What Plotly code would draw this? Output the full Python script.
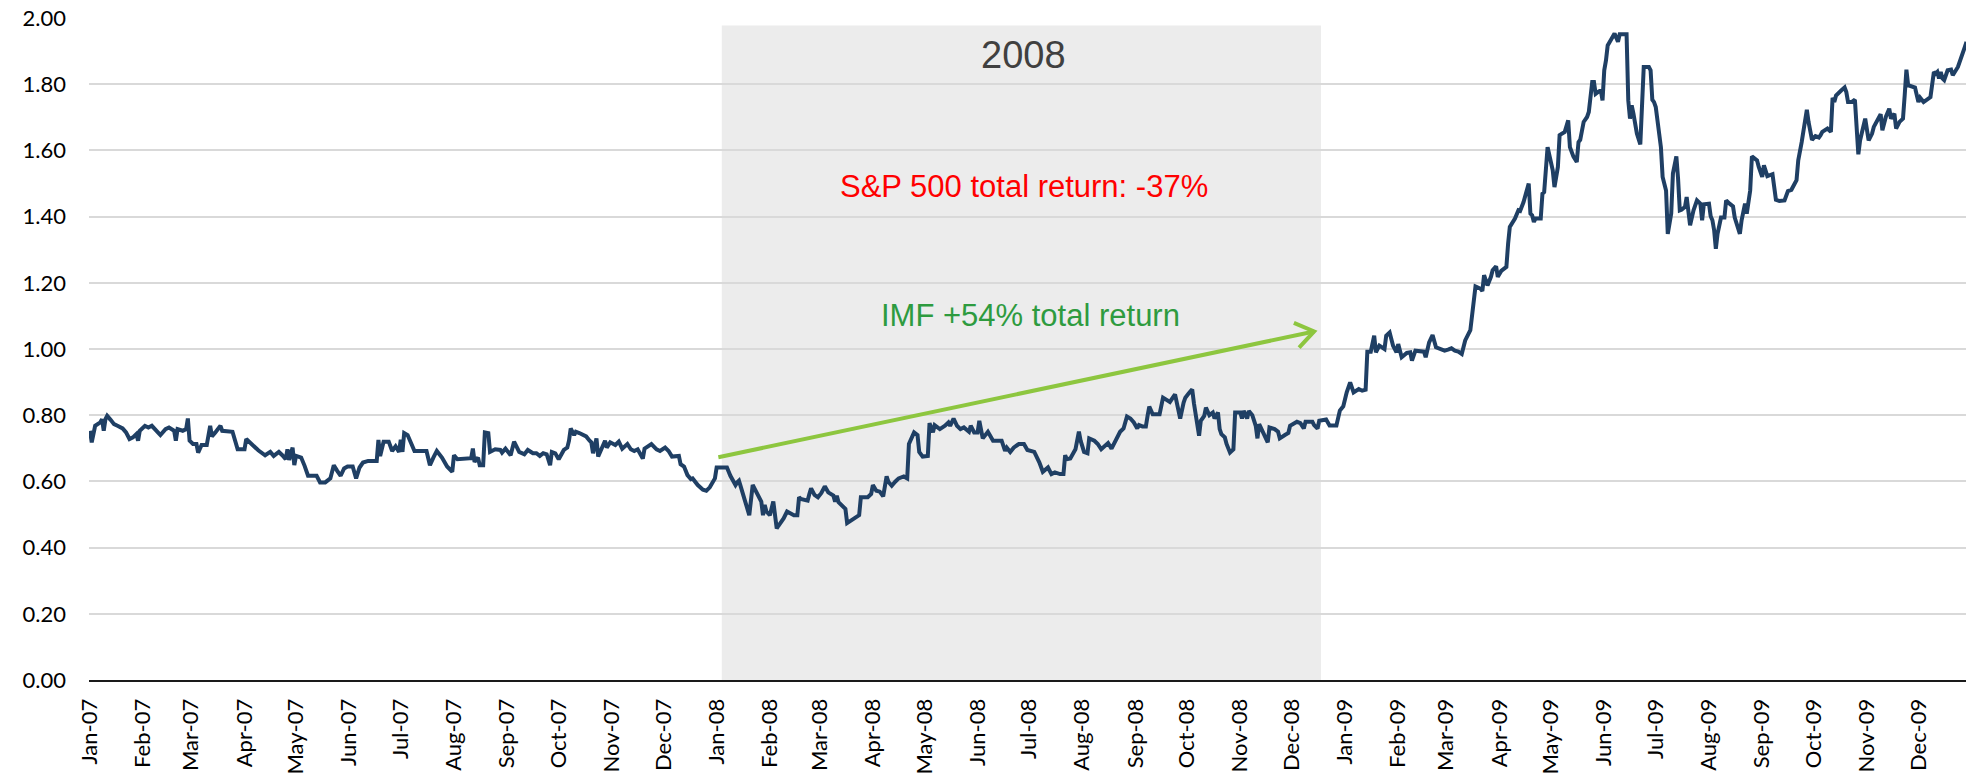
import pandas as pd
import plotly.graph_objects as go

# ---------------- data ----------------
start_date = "2007-01-01"   # day offsets below are counted from this date

days_2007 = [0, 1, 3, 6, 7, 8, 9, 10, 12, 14, 16, 19, 21, 23, 25, 27, 28, 29, 32, 34, 36, 38, 41, 44, 46, 49, 50, 51, 54, 56, 57, 58, 60, 62, 63, 65, 68, 70, 71, 73, 76, 77, 80, 83, 86, 90, 91, 94, 98, 102, 105, 107, 110, 112, 114, 115, 116, 118, 119, 120, 123, 125, 127, 129, 132, 134, 137, 140, 142, 144, 146, 148, 150, 153, 155, 157, 159, 162, 167, 168, 169, 171, 174, 176, 178, 180, 181, 182, 183, 185, 187, 189, 196, 198, 200, 202, 205, 208, 211, 212, 214, 217, 222, 223, 224, 226, 227, 229, 230, 232, 233, 236, 239, 240, 242, 245, 247, 250, 253, 255, 258, 260, 262, 264, 266, 268, 269, 271, 273, 276, 278, 279, 280, 282, 283, 285, 287, 289, 291, 292, 293, 295, 296, 298, 300, 301, 303, 306, 308, 310, 313, 315, 317, 319, 322, 323, 327, 330, 332, 335, 337, 339, 343, 344, 346, 348, 350, 351, 354, 357, 359, 361, 364]
vals_2007 = [0.753, 0.718, 0.768, 0.778, 0.788, 0.753, 0.788, 0.798, 0.786, 0.773, 0.768, 0.760, 0.748, 0.728, 0.733, 0.743, 0.723, 0.753, 0.768, 0.763, 0.768, 0.758, 0.740, 0.758, 0.763, 0.753, 0.723, 0.758, 0.753, 0.758, 0.790, 0.723, 0.713, 0.713, 0.687, 0.710, 0.710, 0.768, 0.736, 0.748, 0.768, 0.753, 0.753, 0.750, 0.697, 0.697, 0.728, 0.713, 0.694, 0.679, 0.689, 0.677, 0.689, 0.679, 0.667, 0.697, 0.665, 0.702, 0.649, 0.677, 0.672, 0.647, 0.617, 0.617, 0.617, 0.597, 0.597, 0.609, 0.649, 0.632, 0.617, 0.639, 0.645, 0.645, 0.609, 0.642, 0.657, 0.662, 0.662, 0.725, 0.677, 0.720, 0.720, 0.692, 0.706, 0.689, 0.726, 0.689, 0.746, 0.740, 0.718, 0.692, 0.692, 0.649, 0.672, 0.692, 0.672, 0.645, 0.629, 0.679, 0.667, 0.669, 0.670, 0.699, 0.659, 0.672, 0.649, 0.649, 0.748, 0.746, 0.689, 0.697, 0.695, 0.687, 0.699, 0.679, 0.720, 0.689, 0.682, 0.695, 0.685, 0.685, 0.677, 0.685, 0.682, 0.649, 0.689, 0.685, 0.667, 0.695, 0.702, 0.723, 0.760, 0.740, 0.750, 0.746, 0.740, 0.736, 0.723, 0.718, 0.685, 0.730, 0.675, 0.702, 0.723, 0.702, 0.718, 0.710, 0.720, 0.699, 0.713, 0.697, 0.692, 0.697, 0.669, 0.699, 0.713, 0.697, 0.692, 0.702, 0.692, 0.675, 0.677, 0.652, 0.645, 0.619, 0.607, 0.609, 0.589, 0.575, 0.572, 0.582, 0.609]

days_2008 = [365, 371, 373, 376, 377, 378, 379, 382, 384, 386, 389, 391, 392, 393, 394, 396, 398, 399, 400, 401, 404, 406, 408, 410, 412, 413, 414, 418, 419, 420, 422, 424, 426, 428, 430, 433, 434, 435, 436, 439, 440, 441, 443, 446, 448, 449, 453, 455, 456, 458, 460, 462, 464, 465, 467, 469, 471, 474, 476, 477, 478, 480, 482, 483, 485, 488, 489, 491, 492, 495, 498, 500, 501, 503, 505, 507, 509, 512, 513, 515, 517, 518, 520, 523, 526, 531, 533, 534, 536, 538, 541, 544, 546, 548, 550, 553, 555, 558, 560, 562, 565, 567, 568, 569, 571, 574, 576, 577, 579, 581, 582, 585, 587, 589, 591, 593, 595, 597, 600, 602, 604, 606, 608, 610, 611, 613, 615, 616, 617, 619, 623, 625, 627, 629, 632, 633, 635, 637, 638, 640, 642, 643, 646, 647, 649, 650, 652, 654, 655, 657, 658, 659, 661, 662, 664, 666, 667, 670, 671, 672, 674, 675, 677, 679, 680, 681, 683, 686, 687, 690, 692, 693, 696, 698, 699, 703, 705, 707, 708, 712, 713, 715, 716, 720, 722, 726, 728, 730]
vals_2008 = [0.642, 0.642, 0.617, 0.589, 0.597, 0.602, 0.585, 0.532, 0.498, 0.589, 0.559, 0.539, 0.498, 0.529, 0.509, 0.498, 0.539, 0.496, 0.458, 0.466, 0.488, 0.509, 0.504, 0.498, 0.498, 0.552, 0.547, 0.542, 0.562, 0.579, 0.559, 0.552, 0.565, 0.585, 0.567, 0.557, 0.539, 0.557, 0.537, 0.524, 0.517, 0.474, 0.481, 0.491, 0.498, 0.552, 0.552, 0.562, 0.589, 0.572, 0.569, 0.555, 0.615, 0.599, 0.587, 0.599, 0.609, 0.615, 0.609, 0.713, 0.723, 0.748, 0.740, 0.689, 0.675, 0.677, 0.776, 0.748, 0.770, 0.758, 0.768, 0.778, 0.768, 0.790, 0.768, 0.758, 0.763, 0.750, 0.768, 0.748, 0.748, 0.783, 0.730, 0.750, 0.723, 0.723, 0.692, 0.702, 0.689, 0.702, 0.713, 0.713, 0.695, 0.692, 0.689, 0.657, 0.629, 0.642, 0.622, 0.627, 0.622, 0.622, 0.679, 0.667, 0.669, 0.697, 0.750, 0.723, 0.689, 0.685, 0.730, 0.723, 0.713, 0.697, 0.708, 0.716, 0.699, 0.720, 0.750, 0.760, 0.796, 0.790, 0.778, 0.760, 0.770, 0.766, 0.766, 0.798, 0.826, 0.803, 0.803, 0.853, 0.848, 0.840, 0.863, 0.838, 0.790, 0.838, 0.853, 0.866, 0.878, 0.836, 0.738, 0.783, 0.798, 0.823, 0.800, 0.808, 0.790, 0.808, 0.758, 0.743, 0.733, 0.713, 0.687, 0.697, 0.808, 0.808, 0.790, 0.813, 0.790, 0.813, 0.800, 0.768, 0.730, 0.773, 0.753, 0.718, 0.763, 0.758, 0.750, 0.730, 0.740, 0.746, 0.768, 0.780, 0.776, 0.760, 0.780, 0.780, 0.770, 0.760, 0.783, 0.787, 0.769, 0.769, 0.814, 0.827]

days_2009 = [732, 734, 736, 739, 741, 743, 744, 746, 748, 749, 751, 754, 755, 757, 759, 761, 762, 764, 767, 769, 770, 772, 777, 778, 780, 782, 784, 786, 789, 791, 793, 795, 797, 799, 801, 804, 805, 806, 807, 810, 811, 812, 814, 816, 817, 819, 820, 822, 825, 826, 827, 830, 832, 833, 835, 838, 839, 840, 841, 842, 845, 846, 847, 849, 851, 852, 853, 855, 856, 858, 859, 861, 862, 864, 866, 867, 868, 870, 872, 873, 875, 876, 877, 879, 880, 881, 882, 883, 884, 886, 888, 890, 891, 895, 896, 897, 898, 899, 900, 901, 903, 905, 908, 909, 910, 911, 912, 914, 915, 916, 918, 919, 921, 922, 924, 925, 926, 927, 929, 930, 932, 934, 936, 938, 939, 940, 943, 944, 945, 946, 947, 948, 950, 952, 953, 955, 957, 958, 961, 962, 964, 965, 967, 968, 971, 972, 974, 975, 977, 980, 982, 984, 987, 989, 991, 994, 995, 997, 1000, 1001, 1003, 1005, 1007, 1008, 1009, 1012, 1014, 1015, 1016, 1017, 1019, 1020, 1022, 1023, 1024, 1026, 1028, 1030, 1031, 1034, 1036, 1038, 1039, 1041, 1043, 1044, 1046, 1048, 1049, 1051, 1052, 1054, 1056, 1057, 1058, 1059, 1061, 1063, 1065, 1066, 1068, 1070, 1072, 1074, 1075, 1076, 1077, 1078, 1079, 1080, 1082, 1084, 1085, 1088, 1090, 1092, 1093]
vals_2009 = [0.869, 0.899, 0.869, 0.879, 0.874, 0.877, 0.992, 0.992, 1.040, 0.990, 1.010, 1.000, 1.040, 1.050, 1.010, 0.990, 1.015, 0.975, 0.988, 0.990, 0.965, 0.995, 0.992, 0.975, 1.020, 1.042, 1.005, 1.002, 0.995, 0.998, 1.002, 0.995, 0.992, 0.985, 1.026, 1.057, 1.107, 1.157, 1.189, 1.182, 1.175, 1.223, 1.192, 1.218, 1.238, 1.250, 1.218, 1.236, 1.248, 1.318, 1.369, 1.394, 1.419, 1.417, 1.444, 1.500, 1.409, 1.404, 1.384, 1.394, 1.394, 1.469, 1.474, 1.610, 1.570, 1.540, 1.489, 1.550, 1.646, 1.651, 1.656, 1.691, 1.610, 1.582, 1.565, 1.625, 1.632, 1.686, 1.701, 1.716, 1.807, 1.807, 1.771, 1.779, 1.781, 1.751, 1.842, 1.872, 1.917, 1.935, 1.953, 1.928, 1.951, 1.951, 1.751, 1.696, 1.736, 1.711, 1.681, 1.651, 1.618, 1.852, 1.852, 1.842, 1.753, 1.746, 1.731, 1.661, 1.610, 1.520, 1.479, 1.348, 1.409, 1.530, 1.582, 1.515, 1.419, 1.421, 1.429, 1.459, 1.374, 1.419, 1.449, 1.439, 1.389, 1.437, 1.439, 1.401, 1.389, 1.359, 1.303, 1.348, 1.397, 1.397, 1.449, 1.439, 1.431, 1.397, 1.348, 1.389, 1.439, 1.409, 1.479, 1.582, 1.570, 1.550, 1.520, 1.555, 1.522, 1.528, 1.451, 1.447, 1.449, 1.477, 1.481, 1.510, 1.570, 1.625, 1.723, 1.686, 1.632, 1.643, 1.639, 1.646, 1.656, 1.666, 1.656, 1.759, 1.746, 1.766, 1.774, 1.781, 1.790, 1.776, 1.746, 1.746, 1.753, 1.588, 1.630, 1.696, 1.630, 1.651, 1.671, 1.691, 1.709, 1.661, 1.701, 1.726, 1.696, 1.711, 1.666, 1.686, 1.696, 1.766, 1.844, 1.797, 1.792, 1.790, 1.746, 1.759, 1.746, 1.753, 1.761, 1.837, 1.832, 1.837, 1.817, 1.837, 1.817, 1.812, 1.842, 1.844, 1.827, 1.852, 1.887, 1.912, 1.928]

# axis extents and annotation anchors
x_range = ["2006-12-31 10:00", "2009-12-28 17:00"]
y_range = [0, 2]
y_step = 0.2
highlight_span = ["2008-01-04", "2008-12-18"]
highlight_top = 1.977
year_label = "2008"
year_label_pos = ("2008-06-28", 1.888)
sp_label = "S&P 500 total return: -37%"
sp_label_pos = ("2008-06-28", 1.49)
imf_label = "IMF +54% total return"
imf_label_pos = ("2008-07-02", 1.10)
arrow_start = ("2008-01-02", 0.673)
arrow_end = ("2008-12-14", 1.053)

# ---------------- figure ----------------
day_offsets = days_2007 + days_2008 + days_2009
values = vals_2007 + vals_2008 + vals_2009
dates = pd.Timestamp(start_date) + pd.to_timedelta(day_offsets, unit="D")

NAVY = "#1f3f64"
ARROW_GREEN = "#8dc63f"
TICK_FONT = dict(family="Lato, Carlito, Calibri, sans-serif", size=22, color="#000000")
ANNOT_FAMILY = "Liberation Sans, Arial, sans-serif"

fig = go.Figure()
fig.add_trace(go.Scatter(
    x=dates, y=values, mode="lines",
    line=dict(color=NAVY, width=4),
    hoverinfo="x+y", showlegend=False,
))

# grey 2008 band (beneath gridlines)
fig.add_shape(type="rect", xref="x", yref="y",
              x0=highlight_span[0], x1=highlight_span[1], y0=0, y1=highlight_top,
              fillcolor="#ececec", line=dict(width=0), layer="below")

# green arrow: shaft
fig.add_shape(type="line", xref="x", yref="y",
              x0=arrow_start[0], y0=arrow_start[1], x1=arrow_end[0], y1=arrow_end[1],
              line=dict(color=ARROW_GREEN, width=4), layer="above")
# open arrowhead, sized in pixels, anchored at the tip
fig.add_shape(type="path", xref="x", yref="y",
              xsizemode="pixel", ysizemode="pixel",
              xanchor=arrow_end[0], yanchor=arrow_end[1],
              path="M -20.2,8.6 L 0,0 L -15,-16.1",
              line=dict(color=ARROW_GREEN, width=4),
              fillcolor="rgba(0,0,0,0)", layer="above")

fig.add_annotation(x=year_label_pos[0], y=year_label_pos[1], text=year_label,
                   showarrow=False, xanchor="center", yanchor="middle",
                   font=dict(family=ANNOT_FAMILY, size=38, color="#404040"))
fig.add_annotation(x=sp_label_pos[0], y=sp_label_pos[1], text=sp_label,
                   showarrow=False, xanchor="center", yanchor="middle",
                   font=dict(family=ANNOT_FAMILY, size=31, color="#ff0000"))
fig.add_annotation(x=imf_label_pos[0], y=imf_label_pos[1], text=imf_label,
                   showarrow=False, xanchor="center", yanchor="middle",
                   font=dict(family=ANNOT_FAMILY, size=31, color="#2e9b3f"))

fig.update_xaxes(
    type="date", range=x_range, automargin=False,
    tick0=start_date, dtick="M1", tickformat="%b-%y", tickangle=-90,
    ticks="", ticklabelstandoff=8,
    showgrid=False, zeroline=False,
    showline=True, linecolor="#1a1a1a", linewidth=2,
    tickfont=TICK_FONT,
)
fig.update_yaxes(
    range=y_range, dtick=y_step, tick0=0, tickformat=".2f", automargin=False,
    ticks="", ticklabelstandoff=22,
    showgrid=True, gridcolor="#d9d9d9", gridwidth=2,
    zeroline=False, showline=False,
    tickfont=TICK_FONT,
)
fig.update_layout(
    width=1966, height=780,
    margin=dict(l=89, r=0, t=18, b=100, autoexpand=False),
    paper_bgcolor="#ffffff", plot_bgcolor="#ffffff",
    showlegend=False,
)

# remove the browser's default page margin so the figure fills the window exactly
fig.write_html(
    "out.html",
    config={"displayModeBar": False},
    post_script="document.body.style.margin='0';document.body.style.overflow='hidden';",
)
